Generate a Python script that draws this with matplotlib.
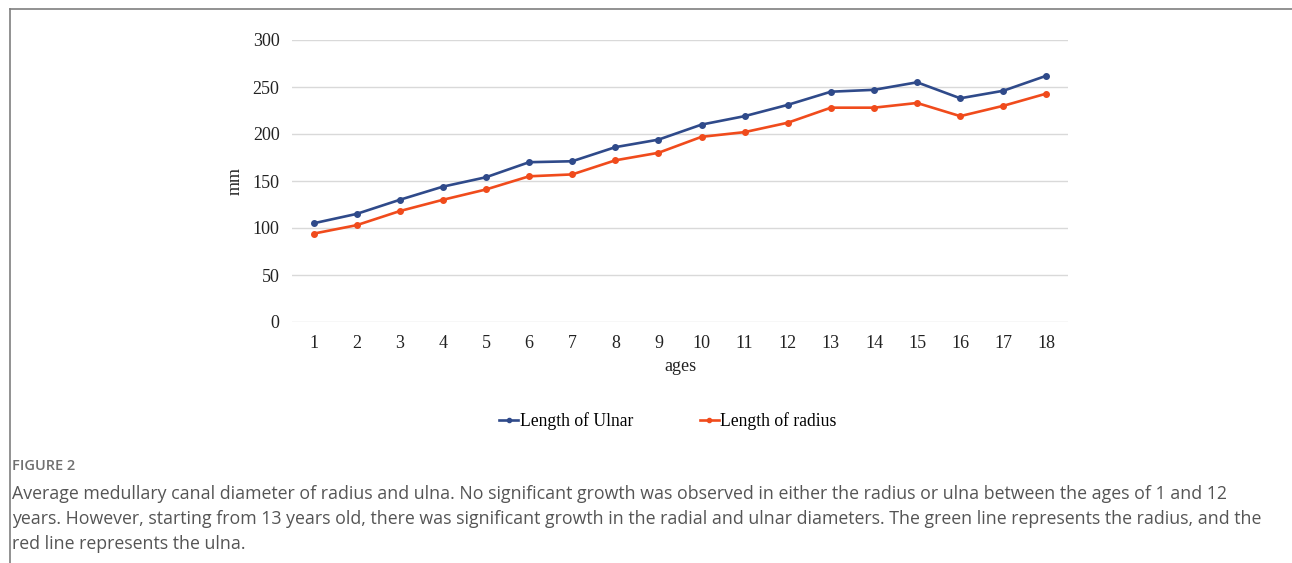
import matplotlib

matplotlib.use("Agg")
import matplotlib.pyplot as plt  # noqa: E402
from matplotlib.lines import Line2D  # noqa: E402

ages = list(range(1, 19))
ulnar = [105, 115, 130, 144, 154, 170, 171, 186, 194,
         210, 219, 231, 245, 247, 255, 238, 246, 262]
radius = [94, 103, 118, 130, 141, 155, 157, 172, 180,
          197, 202, 212, 228, 228, 233, 219, 230, 243]
yticks = [0, 50, 100, 150, 200, 250, 300]

caption_title = "FIGURE 2"
caption_lines = [
    "Average medullary canal diameter of radius and ulna. No significant growth was observed in either the radius or ulna between the ages of 1 and 12",
    "years. However, starting from 13 years old, there was significant growth in the radial and ulnar diameters. The green line represents the radius, and the",
    "red line represents the ulna.",
]

BLUE = "#2f4a8a"
ORANGE = "#f04b1c"
SERIF = ["Liberation Serif", "DejaVu Serif"]

fig = plt.figure(figsize=(12.92, 5.63), dpi=100)
W, H = 1292, 563

ax = fig.add_axes([292 / W, 1 - 322 / H, (1068 - 292) / W, (322 - 40) / H])
ax.plot(ages, ulnar, color=BLUE, lw=1.9, marker="o", ms=4, label="Length of Ulnar")
ax.plot(ages, radius, color=ORANGE, lw=1.9, marker="o", ms=4, label="Length of radius")

ax.set_xlim(0.5, 18.5)
ax.set_ylim(0, 300)
ax.set_yticks(yticks)
ax.set_xticks(ages)
ax.grid(axis="y", color="#d9d9d9", lw=1.0)
ax.set_axisbelow(True)
for s in ax.spines.values():
    s.set_visible(False)
ax.tick_params(length=0, labelsize=13, pad=9)
for lab in ax.get_xticklabels() + ax.get_yticklabels():
    lab.set_family(SERIF)
    lab.set_color("#222222")
ax.set_xlabel("ages", family=SERIF, fontsize=13, color="#222222", labelpad=5)
ax.set_ylabel("mm", family=SERIF, fontsize=13, color="#222222", labelpad=6)

handles = [Line2D([], [], color=BLUE, lw=1.9, marker="o", ms=3),
           Line2D([], [], color=ORANGE, lw=1.9, marker="o", ms=3)]
fig.legend(handles, ["Length of Ulnar", "Length of radius"], loc="center",
           bbox_to_anchor=(668 / W, 1 - 421 / H), ncol=2, frameon=False,
           prop={"family": SERIF, "size": 12.7}, handlelength=1.05,
           handletextpad=0.1, columnspacing=3.8)

# figure frame (top and left rules)
fig.add_artist(Line2D([9.5 / W, 1], [1 - 8.5 / H, 1 - 8.5 / H], color="#7f7f7f", lw=1.2))
fig.add_artist(Line2D([9.5 / W, 9.5 / W], [1 - 8.5 / H, 0], color="#7f7f7f", lw=1.2))

fig.text(12 / W, 1 - 466 / H, caption_title, family="Open Sans", fontsize=10.5,
         color="#707070", va="center", weight="semibold")
for i, line in enumerate(caption_lines):
    fig.text(12 / W, 1 - (494 + 25 * i) / H, line, family="Open Sans",
             fontsize=12.8, color="#555555", va="center")

fig.savefig("out.png", dpi=100)
